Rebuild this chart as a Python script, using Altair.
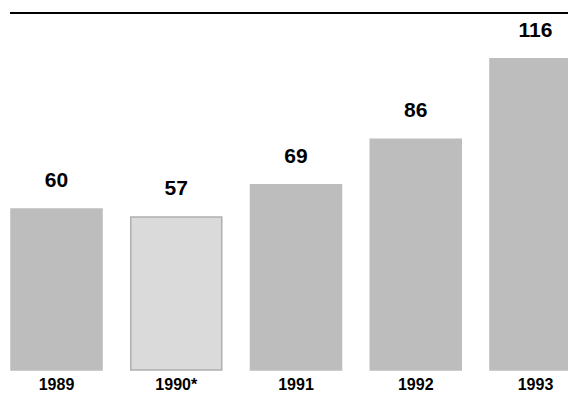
import altair as alt
import pandas as pd

years = ["1989", "1990*", "1991", "1992", "1993"]
values = [60, 57, 69, 86, 116]

df = pd.DataFrame({"year": years, "value": values})

W, H = 557, 357
RANGE_W = 570
FONT = "Liberation Sans"

base = alt.Chart(df)

x = alt.X("year:N", sort=years,
          scale=alt.Scale(paddingInner=0.24, paddingOuter=0, range=[0, RANGE_W]),
          axis=alt.Axis(title=None, labelAngle=0, domain=False, ticks=False,
                        labelFont=FONT, labelFontSize=16, labelFontWeight="bold",
                        labelColor="black", labelBaseline="alphabetic",
                        labelPadding=19))
y = alt.Y("value:Q", scale=alt.Scale(domain=[0, 133], nice=False), axis=None)

bars = base.mark_bar(strokeWidth=1.5).encode(
    x=x, y=y,
    color=alt.condition(alt.datum.year == "1990*", alt.value("#dadada"), alt.value("#bdbdbd")),
    stroke=alt.condition(alt.datum.year == "1990*", alt.value("#b0b0b0"), alt.value("#bdbdbd")),
)

labels = base.mark_text(font=FONT, fontSize=21, fontWeight="bold", baseline="alphabetic",
                        dy=-22, color="black").encode(
    x=alt.X("year:N", sort=years), y="value:Q", text="value:Q")

top_line = base.mark_rule(color="black", strokeWidth=2).encode(
    x=alt.value(-1), x2=alt.value(RANGE_W), y=alt.value(0))

chart = alt.layer(bars, labels, top_line).properties(
    width=W, height=H,
    autosize=alt.AutoSizeParams(type="none"),
    padding={"left": 3, "top": 5, "right": 0, "bottom": 24},
    background="white",
).configure_view(stroke=None)

chart.save("out.html", embed_options={"renderer": "svg", "actions": False})
